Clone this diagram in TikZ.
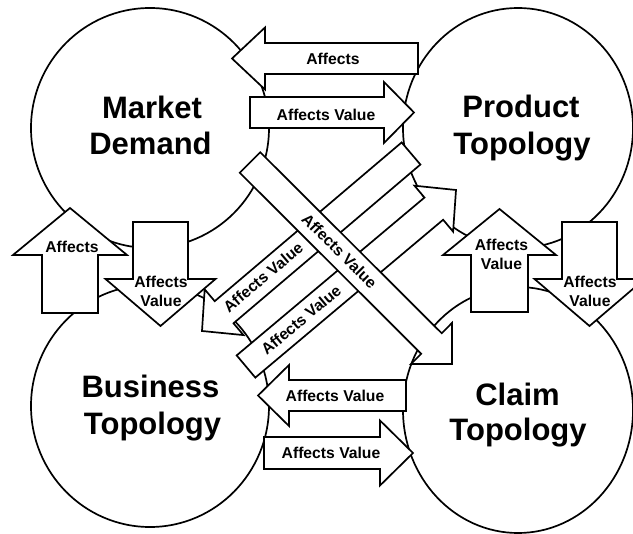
\documentclass[tikz,border=0pt]{standalone}
\usepackage{fontspec}
\setmainfont{Liberation Sans}
\usetikzlibrary{calc,shapes.geometric}
\tikzset{
  circ/.style={ellipse, draw, line width=1.7bp, fill=white, inner sep=0pt, outer sep=0pt},
  bigtxt/.style={font=\fontsize{31bp}{36bp}\selectfont\bfseries, inner sep=0pt, anchor=base},
  smalltxt/.style={font=\fontsize{15.7bp}{18bp}\selectfont\bfseries, inner sep=0pt},
  blk/.style={draw, line width=1.7bp, fill=white, line join=miter},
}
\newcommand\blockarrow[5]{%
  \coordinate (tmpb) at ($(#2)!#5!(#1)$);
  \draw[blk] ($(#1)!#3!90:(#2)$) -- ($(tmpb)!#3!-90:(#1)$) -- ($(tmpb)!#4!-90:(#1)$) -- (#2)
     -- ($(tmpb)!#4!90:(#1)$) -- ($(tmpb)!#3!90:(#1)$) -- ($(#1)!#3!-90:(#2)$) -- cycle;
}
\begin{document}
\begin{tikzpicture}[x=1bp,y=-1bp]
\useasboundingbox (0,0) rectangle (633,534);
\clip (0,0) rectangle (633,534);
\fill[white] (0,0) rectangle (633,534);
% circles
\node[circ, minimum width=238bp, minimum height=240bp] (MD) at (150,128) {};
\node[circ, minimum width=230bp, minimum height=240bp] (PT) at (518,128) {};
\node[circ, minimum width=238bp, minimum height=242bp] (BT) at (150,406) {};
\node[circ, minimum width=230bp, minimum height=246bp] (CT) at (518,410) {};
\node[bigtxt] (mdA) at (152,119) {Market};
\node[bigtxt] (mdB) at (150.5,155) {Demand};
\node[bigtxt] (ptA) at (521,118) {Product};
\node[bigtxt] (ptB) at (522,155) {Topology};
\node[bigtxt] (btA) at (150.5,397) {Business};
\node[bigtxt] (btB) at (152.5,434) {Topology};
\node[bigtxt] (ctA) at (517.5,405) {Claim};
\node[bigtxt] (ctB) at (518,440) {Topology};
% arrow end points
\coordinate (aT) at (418,58.5);   \coordinate (aP) at (232,58.5);
\coordinate (bT) at (250,112.5);  \coordinate (bP) at (414,112.5);
\coordinate (gT) at (406,395.5);  \coordinate (gP) at (258,395.5);
\coordinate (hT) at (264,453);    \coordinate (hP) at (413,453);
\coordinate (cT) at (70,313);     \coordinate (cP) at (70,208);
\coordinate (dT) at (160.5,222);  \coordinate (dP) at (160.5,326);
\coordinate (eT) at (499.5,312);  \coordinate (eP) at (499.5,209);
\coordinate (fT) at (589.5,222);  \coordinate (fP) at (589.5,326);
\coordinate (jT) at (411,153.5);  \coordinate (jP) at (202,331);
\coordinate (kT) at (246,366.5);  \coordinate (kP) at (456,190);
\coordinate (iT) at (250,162.5);  \coordinate (iP) at (452,364);
% horizontal arrows
\blockarrow{aT}{aP}{15.5bp}{31bp}{33bp}
\node[smalltxt] (la) at (333,59) {Affects};
\blockarrow{bT}{bP}{15.5bp}{30.5bp}{30bp}
\node[smalltxt] (lb) at (326,115) {Affects Value};
\blockarrow{gT}{gP}{15.5bp}{30.5bp}{31bp}
\node[smalltxt] (lg) at (335,396) {Affects Value};
\blockarrow{hT}{hP}{16bp}{32.5bp}{33bp}
\node[smalltxt] (lh) at (331,453) {Affects Value};
% vertical arrows
\blockarrow{cT}{cP}{28bp}{57bp}{47bp}
\node[smalltxt] (lc) at (72,246.5) {Affects};
\blockarrow{eT}{eP}{28.5bp}{56.5bp}{46bp}
\node[smalltxt] (le1) at (501.5,245) {Affects};
\node[smalltxt] (le2) at (501.5,263.5) {Value};
\blockarrow{fT}{fP}{27.5bp}{55bp}{47bp}
\node[smalltxt] (lf1) at (590,281.5) {Affects};
\node[smalltxt] (lf2) at (590,301) {Value};
% diagonal arrows
\blockarrow{jT}{jP}{14.5bp}{30bp}{29bp}
\node[smalltxt, rotate=40.3] (lj) at (263,277.5) {Affects Value};
\blockarrow{dT}{dP}{27.5bp}{55bp}{47bp}
\node[smalltxt] (ld1) at (161,281.5) {Affects};
\node[smalltxt] (ld2) at (161,301) {Value};
\blockarrow{kT}{kP}{14.5bp}{30bp}{29bp}
\node[smalltxt, rotate=40] (lk) at (301,320) {Affects Value};
\blockarrow{iT}{iP}{14.5bp}{29bp}{29bp}
\node[smalltxt, rotate=-45] (li) at (339.5,251) {Affects Value};
\end{tikzpicture}
\end{document}
